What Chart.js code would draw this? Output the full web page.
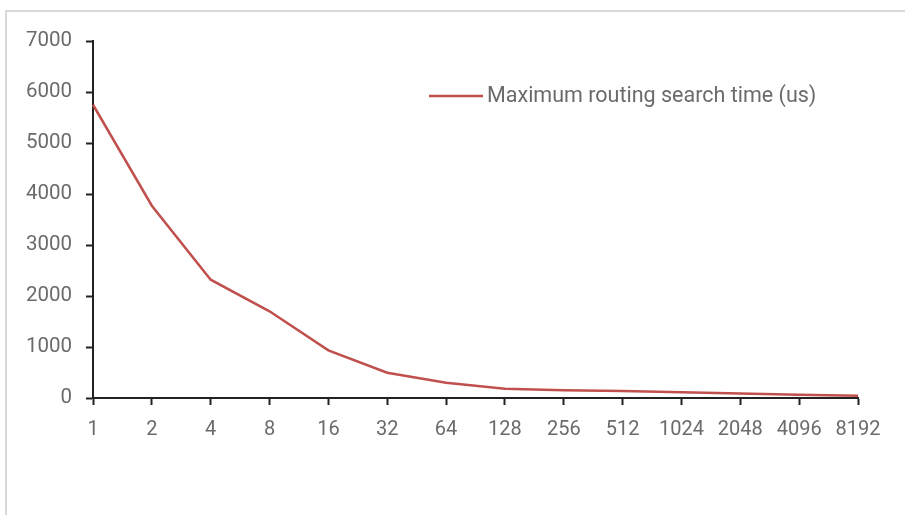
<!DOCTYPE html>
<html>
<head>
<meta charset="utf-8">
<script src="https://cdn.jsdelivr.net/npm/chart.js@4.4.0/dist/chart.umd.min.js"></script>
<style>
  html, body { margin: 0; padding: 0; background: #fff; }
  #wrap { position: relative; width: 905px; height: 515px; }
</style>
</head>
<body>
<div id="wrap"><canvas id="myChart" width="905" height="515"></canvas></div>
<script>
const categories = ['1', '2', '4', '8', '16', '32', '64', '128', '256', '512', '1024', '2048', '4096', '8192'];
const searchTime = [5750, 3770, 2320, 1700, 935, 495, 298, 182, 150, 135, 112, 88, 62, 42];
const seriesLabel = 'Maximum routing search time (us)';
const yTicks = [0, 1000, 2000, 3000, 4000, 5000, 6000, 7000];

const FONT = "Roboto, sans-serif";
const TEXT = '#6b6b6b';
const LINE = '#c0504d';

// light grey frame on the left/top like the spreadsheet chart box
const framePlugin = {
    id: 'frame',
    beforeDraw(chart) {
        const ctx = chart.ctx;
        ctx.save();
        ctx.strokeStyle = '#d9d9d9';
        ctx.lineWidth = 2;
        ctx.beginPath();
        ctx.moveTo(6, 515);
        ctx.lineTo(6, 11);
        ctx.lineTo(905, 11);
        ctx.stroke();
        ctx.restore();
    }
};

// legend drawn inside the plot area
const innerLegend = {
    id: 'innerLegend',
    afterDraw(chart) {
        const ctx = chart.ctx;
        const ds = chart.data.datasets[0];
        ctx.save();
        ctx.strokeStyle = ds.borderColor;
        ctx.lineWidth = 2.5;
        ctx.beginPath();
        ctx.moveTo(429, 96);
        ctx.lineTo(483, 96);
        ctx.stroke();
        ctx.fillStyle = TEXT;
        ctx.font = '21.5px ' + FONT;
        ctx.textBaseline = 'middle';
        ctx.fillText(ds.label, 487, 97);
        ctx.restore();
    }
};

new Chart(document.getElementById('myChart'), {
    type: 'line',
    data: {
        labels: categories,
        datasets: [{
            label: seriesLabel,
            data: searchTime,
            borderColor: LINE,
            backgroundColor: LINE,
            borderWidth: 2.5,
            pointRadius: 0,
            tension: 0,
            fill: false
        }]
    },
    options: {
        responsive: false,
        animation: false,
        layout: { padding: { top: 41, right: 47, bottom: 0, left: 0 } },
        plugins: {
            legend: { display: false },
            tooltip: { enabled: false }
        },
        scales: {
            x: {
                type: 'category',
                offset: false,
                grid: { drawOnChartArea: false, drawTicks: true, tickLength: 7, tickWidth: 2, tickColor: '#222' },
                border: { color: '#222', width: 2 },
                ticks: { color: TEXT, font: { family: FONT, size: 20 }, padding: 13, maxRotation: 0, autoSkip: false },
                afterFit(scale) { scale.height = 117; }
            },
            y: {
                min: 0,
                max: 7000,
                afterBuildTicks(scale) { scale.ticks = yTicks.map(v => ({ value: v })); },
                grid: { drawOnChartArea: false, drawTicks: true, tickLength: 7, tickWidth: 2, tickColor: '#222' },
                border: { color: '#222', width: 2 },
                ticks: {
                    color: TEXT,
                    font: { family: FONT, size: 20.5 },
                    padding: 14,
                    callback: v => String(v)
                },
                afterFit(scale) { scale.width = 93; }
            }
        }
    },
    plugins: [framePlugin, innerLegend]
});
</script>
</body>
</html>
